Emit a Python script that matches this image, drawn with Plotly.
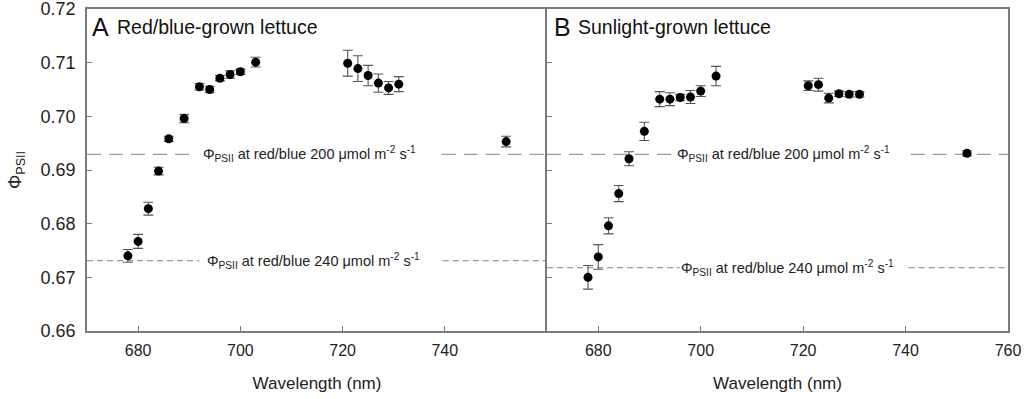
import plotly.graph_objects as go

wavelength = [678, 680, 682, 684, 686, 689, 692, 694, 696, 698, 700, 703, 721, 723, 725, 727, 729, 731, 752]

phi_a = [0.6740, 0.6767, 0.6828, 0.6898, 0.6958, 0.6996, 0.7055, 0.7050, 0.7071, 0.7078,
         0.7083, 0.7101, 0.7099, 0.7089, 0.7076, 0.7062, 0.7053, 0.7060, 0.6953]
err_a = [0.0012, 0.0013, 0.0012, 0.0007, 0.0005, 0.0008, 0.0006, 0.0006, 0.0005, 0.0007,
         0.0005, 0.0009, 0.0024, 0.0024, 0.0019, 0.0017, 0.0012, 0.0014, 0.0010]

phi_b = [0.6700, 0.6738, 0.6796, 0.6856, 0.6921, 0.6972, 0.7032, 0.7032, 0.7035, 0.7036,
         0.7047, 0.7075, 0.7057, 0.7059, 0.7034, 0.7042, 0.7041, 0.7041, 0.6931]
err_b = [0.0022, 0.0023, 0.0015, 0.0015, 0.0013, 0.0017, 0.0014, 0.0012, 0.0006, 0.0012,
         0.0010, 0.0018, 0.0009, 0.0012, 0.0009, 0.0005, 0.0005, 0.0005, 0.0005]

ref200_a = 0.6929
ref240_a = 0.6731
ref200_b = 0.6929
ref240_b = 0.6718

x_ticks_a = [680, 700, 720, 740]
x_ticks_b = [680, 700, 720, 740, 760]
y_ticks = [0.66, 0.67, 0.68, 0.69, 0.70, 0.71, 0.72]

label200 = "Φ<sub>PSII</sub> at red/blue 200 μmol m<sup>-2</sup> s<sup>-1</sup>"
label240 = "Φ<sub>PSII</sub> at red/blue 240 μmol m<sup>-2</sup> s<sup>-1</sup>"

FONT = "Liberation Sans, Arial, sans-serif"
AXC = "#7a7a7a"

fig = go.Figure()

for xs, ys, es, xa, ya in [(wavelength, phi_a, err_a, "x", "y"), (wavelength, phi_b, err_b, "x2", "y2")]:
    fig.add_trace(go.Scatter(
        x=xs, y=ys, mode="markers", xaxis=xa, yaxis=ya,
        marker=dict(color="black", size=9),
        error_y=dict(type="data", array=es, color="#555555", thickness=1.1, width=5),
        showlegend=False, cliponaxis=False,
    ))

# dashed reference lines (with a gap for the label)
segments = [
    ("x", "y", ref200_a, [(670, 690.7), (739.4, 760)], "14px,8px"),
    ("x", "y", ref240_a, [(670, 692.0), (739.6, 760)], "6px,4px"),
    ("x2", "y2", ref200_b, [(670, 694.5), (741.0, 760)], "14px,8px"),
    ("x2", "y2", ref240_b, [(670, 695.9), (740.6, 760)], "6px,4px"),
]
for xr, yr, yv, parts, dash in segments:
    for x0, x1 in parts:
        fig.add_shape(type="line", xref=xr, yref=yr, x0=x0, x1=x1, y0=yv, y1=yv,
                      line=dict(color="#9a9a9a", width=1.3, dash=dash), layer="below")

labels = [
    ("x", "y", 692.3, ref200_a, label200),
    ("x", "y", 693.1, ref240_a, label240),
    ("x2", "y2", 695.0, ref200_b, label200),
    ("x2", "y2", 695.8, ref240_b, label240),
]
for xr, yr, xv, yv, t in labels:
    fig.add_annotation(xref=xr, yref=yr, x=xv, y=yv, text=t, showarrow=False,
                       xanchor="left", yanchor="middle",
                       font=dict(family=FONT, size=14.5, color="#222222"))

# panel titles
for xr, yr, letter, title, xl, xt in [("x", "y", "A", "Red/blue-grown lettuce", 670.6, 675.4),
                                       ("x2", "y2", "B", "Sunlight-grown lettuce", 670.9, 675.6)]:
    fig.add_annotation(xref=xr, yref=yr, x=xl, y=0.7166, text=letter, showarrow=False,
                       xanchor="left", yanchor="middle",
                       font=dict(family=FONT, size=25, color="#111111"))
    fig.add_annotation(xref=xr, yref=yr, x=xt, y=0.7166, text=title, showarrow=False,
                       xanchor="left", yanchor="middle",
                       font=dict(family=FONT, size=19.5, color="#111111"))

common_x = dict(range=[670, 760], showline=True, linecolor=AXC, linewidth=1.6, mirror=True,
                ticks="inside", ticklen=5, tickcolor=AXC, tickwidth=1,
                showgrid=False, zeroline=False, automargin=False, ticklabeloverflow="allow",
                ticklabelstandoff=4,
                tickfont=dict(family=FONT, size=16, color="#222222"),
                title=dict(text="Wavelength (nm)", font=dict(family=FONT, size=17, color="#222222"), standoff=19))
common_y = dict(range=[0.66, 0.72], tickvals=y_ticks, showline=True, linecolor=AXC, linewidth=1.6,
                ticks="inside", ticklen=5, tickcolor=AXC, tickwidth=1,
                showgrid=False, zeroline=False, automargin=False, ticklabeloverflow="allow")

fig.update_layout(
    width=1024, height=399,
    margin=dict(l=87, r=16, t=9, b=68),
    paper_bgcolor="white", plot_bgcolor="white",
    font=dict(family=FONT, color="#222222"),
    xaxis=dict(domain=[0, 0.4995], tickvals=x_ticks_a, anchor="y", **common_x),
    xaxis2=dict(domain=[0.4995, 1], tickvals=x_ticks_b, anchor="y2", **common_x),
    yaxis=dict(anchor="x", tickformat=".2f", mirror=False, ticklabelstandoff=6,
               tickfont=dict(family=FONT, size=18, color="#222222"),
               title=dict(text="Φ<sub>PSII</sub>", font=dict(family=FONT, size=18, color="#222222"), standoff=14),
               **common_y),
    yaxis2=dict(anchor="x2", showticklabels=False, mirror=True, **common_y),
)

fig.write_html("out.html", config={"displayModeBar": False},
               post_script="document.body.style.margin='0';document.body.style.overflow='hidden';")
